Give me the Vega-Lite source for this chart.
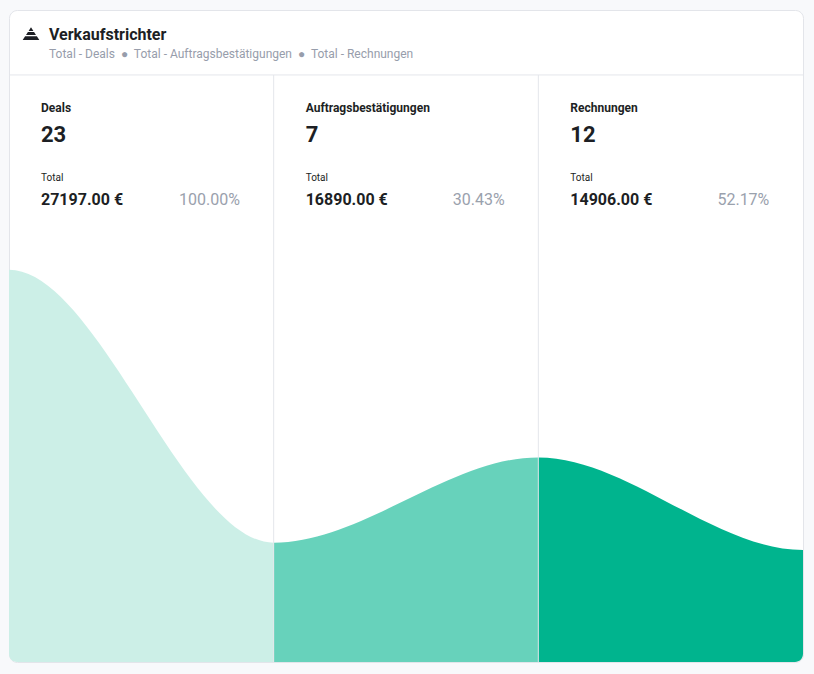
{
  "$schema": "https://vega.github.io/schema/vega-lite/v6.json",
  "width": 794,
  "height": 652,
  "autosize": {"type": "none"},
  "padding": {"left": 9, "top": 10, "right": 11, "bottom": 12},
  "background": "#f8f9fb",
  "datasets": {
    "funnel": [
      {"pos": -1, "value": 23},
      {"pos": 0, "value": 23},
      {"pos": 1, "value": 7},
      {"pos": 2, "value": 12},
      {"pos": 3, "value": 6.57},
      {"pos": 4, "value": 6.57}
    ],
    "stages": [
      {"pos": 0, "stage": "Deals", "count": 23, "total": 27197, "share": 1},
      {"pos": 1, "stage": "Auftragsbestätigungen", "count": 7, "total": 16890, "share": 0.3043},
      {"pos": 2, "stage": "Rechnungen", "count": 12, "total": 14906, "share": 0.5217}
    ]
  },
  "layer": [
    {
      "data": {"name": "funnel"},
      "mark": {
        "type": "area",
        "interpolate": "monotone",
        "clip": true,
        "fill": {
          "gradient": "linear",
          "x1": 0, "x2": 1, "y1": 0, "y2": 0,
          "stops": [
            {"offset": 0, "color": "#ccefe7"},
            {"offset": 0.4, "color": "#ccefe7"},
            {"offset": 0.4, "color": "#67d2bb"},
            {"offset": 0.6, "color": "#67d2bb"},
            {"offset": 0.6, "color": "#00b48e"},
            {"offset": 1, "color": "#00b48e"}
          ]
        }
      },
      "encoding": {
        "x": {"field": "pos", "type": "quantitative", "scale": {"domain": [0, 3], "nice": false, "zero": false}, "axis": null},
        "y": {"field": "value", "type": "quantitative", "scale": {"domain": [0, 38.24], "nice": false}, "axis": null}
      }
    },
    {
      "data": {"name": "stages"},
      "transform": [{"filter": "datum.pos > 0"}],
      "mark": {"type": "rule", "color": "#e4e6eb", "strokeWidth": 1},
      "encoding": {
        "x": {"field": "pos", "type": "quantitative", "scale": {"domain": [0, 3], "nice": false, "zero": false}, "axis": null},
        "y": {"datum": 0, "type": "quantitative", "scale": {"domain": [0, 38.24], "nice": false}, "axis": null},
        "y2": {"datum": 34.43}
      }
    },
    {
      "data": {"values": [{}]},
      "mark": {"type": "rule", "color": "#e4e6eb", "strokeWidth": 1},
      "encoding": {
        "x": {"datum": 0, "type": "quantitative", "scale": {"domain": [0, 3], "nice": false, "zero": false}, "axis": null},
        "x2": {"datum": 3},
        "y": {"datum": 34.43, "type": "quantitative", "scale": {"domain": [0, 38.24], "nice": false}, "axis": null}
      }
    },
    {
      "data": {"values": [{}]},
      "mark": {
        "type": "point",
        "filled": true,
        "opacity": 1,
        "color": "#1d1f24",
        "size": 256,
        "xOffset": 22,
        "shape": "M0,-0.8L0.3,-0.34L-0.3,-0.34Z M-0.384,-0.21L0.384,-0.21L0.624,0.16L-0.624,0.16Z M-0.735,0.33L0.735,0.33L1.04,0.8L-1.04,0.8Z"
      },
      "encoding": {
        "x": {"datum": 0, "type": "quantitative", "scale": {"domain": [0, 3], "nice": false, "zero": false}, "axis": null},
        "y": {"datum": 36.85, "type": "quantitative", "scale": {"domain": [0, 38.24], "nice": false}, "axis": null}
      }
    },
    {
      "data": {"values": [{}]},
      "mark": {"type": "text", "align": "left", "baseline": "alphabetic", "dx": 40, "font": "Roboto", "fontSize": 16, "fontWeight": "bold", "color": "#1d1f24"},
      "encoding": {
        "x": {"datum": 0, "type": "quantitative", "scale": {"domain": [0, 3], "nice": false, "zero": false}, "axis": null},
        "y": {"datum": 36.48, "type": "quantitative", "scale": {"domain": [0, 38.24], "nice": false}, "axis": null},
        "text": {"value": "Verkaufstrichter"}
      }
    },
    {
      "data": {"values": [{}]},
      "mark": {"type": "text", "align": "left", "baseline": "alphabetic", "dx": 40, "font": "Roboto", "fontSize": 12, "color": "#979dab"},
      "encoding": {
        "x": {"datum": 0, "type": "quantitative", "scale": {"domain": [0, 3], "nice": false, "zero": false}, "axis": null},
        "y": {"datum": 35.43, "type": "quantitative", "scale": {"domain": [0, 38.24], "nice": false}, "axis": null},
        "text": {"value": "Total - Deals \u00a0●\u00a0 Total - Auftragsbestätigungen \u00a0●\u00a0 Total - Rechnungen"}
      }
    },
    {
      "data": {"name": "stages"},
      "mark": {"type": "text", "align": "left", "baseline": "alphabetic", "dx": 32, "font": "Roboto", "fontSize": 12, "fontWeight": "bold", "color": "#1d1f24"},
      "encoding": {
        "x": {"field": "pos", "type": "quantitative", "scale": {"domain": [0, 3], "nice": false, "zero": false}, "axis": null},
        "y": {"datum": 32.26, "type": "quantitative", "scale": {"domain": [0, 38.24], "nice": false}, "axis": null},
        "text": {"field": "stage"}
      }
    },
    {
      "data": {"name": "stages"},
      "mark": {"type": "text", "align": "left", "baseline": "alphabetic", "dx": 32, "font": "Roboto", "fontSize": 22, "fontWeight": "bold", "color": "#1d1f24"},
      "encoding": {
        "x": {"field": "pos", "type": "quantitative", "scale": {"domain": [0, 3], "nice": false, "zero": false}, "axis": null},
        "y": {"datum": 30.5, "type": "quantitative", "scale": {"domain": [0, 38.24], "nice": false}, "axis": null},
        "text": {"field": "count", "type": "quantitative", "format": "d"}
      }
    },
    {
      "data": {"name": "stages"},
      "mark": {"type": "text", "align": "left", "baseline": "alphabetic", "dx": 32, "font": "Roboto", "fontSize": 10, "color": "#1d1f24"},
      "encoding": {
        "x": {"field": "pos", "type": "quantitative", "scale": {"domain": [0, 3], "nice": false, "zero": false}, "axis": null},
        "y": {"datum": 28.21, "type": "quantitative", "scale": {"domain": [0, 38.24], "nice": false}, "axis": null},
        "text": {"value": "Total"}
      }
    },
    {
      "data": {"name": "stages"},
      "mark": {"type": "text", "align": "left", "baseline": "alphabetic", "dx": 32, "font": "Roboto", "fontSize": 16, "fontWeight": "bold", "color": "#1d1f24"},
      "encoding": {
        "x": {"field": "pos", "type": "quantitative", "scale": {"domain": [0, 3], "nice": false, "zero": false}, "axis": null},
        "y": {"datum": 26.8, "type": "quantitative", "scale": {"domain": [0, 38.24], "nice": false}, "axis": null},
        "text": {"field": "total", "type": "quantitative", "format": "$.2f"}
      }
    },
    {
      "data": {"name": "stages"},
      "mark": {"type": "text", "align": "right", "baseline": "alphabetic", "dx": 231, "font": "Roboto", "fontSize": 16, "color": "#9aa1ad"},
      "encoding": {
        "x": {"field": "pos", "type": "quantitative", "scale": {"domain": [0, 3], "nice": false, "zero": false}, "axis": null},
        "y": {"datum": 26.8, "type": "quantitative", "scale": {"domain": [0, 38.24], "nice": false}, "axis": null},
        "text": {"field": "share", "type": "quantitative", "format": ".2%"}
      }
    }
  ],
  "config": {
    "view": {"stroke": "#e3e5ea", "fill": "#ffffff", "cornerRadius": 8},
    "font": "Roboto",
    "locale": {
      "number": {"decimal": ".", "thousands": ",", "grouping": [3], "currency": ["", " €"]}
    }
  }
}
